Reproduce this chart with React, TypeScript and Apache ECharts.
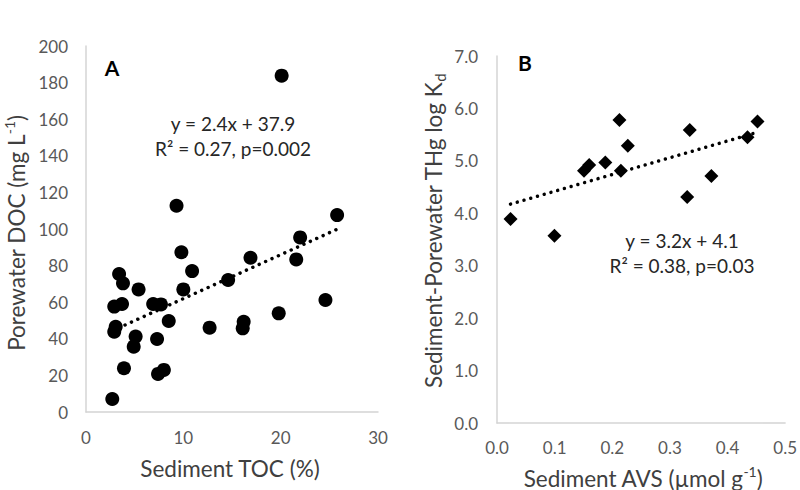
import React, { useEffect, useRef } from "react";
import * as echarts from "echarts";

// Panel A: Sediment TOC (%) vs Porewater DOC (mg L-1)
const tocA: number[] = [20.1, 9.3, 25.8, 9.8, 10.9, 10.0, 14.6, 16.9, 22.0, 21.6, 24.6, 19.8, 16.2, 16.1, 12.7, 8.5, 7.3, 6.9, 7.7, 5.4, 3.4, 3.8, 2.9, 3.7, 3.05, 2.9, 5.1, 4.9, 3.9, 8.0, 7.4, 2.7];
const docA: number[] = [183.8, 112.7, 107.6, 87.3, 77.0, 67.0, 72.1, 84.3, 95.4, 83.4, 61.2, 53.9, 49.3, 45.7, 46.1, 49.7, 39.9, 59.0, 58.8, 67.0, 75.4, 70.3, 57.6, 59.0, 46.6, 43.9, 41.2, 35.7, 23.9, 23.0, 20.8, 7.1];
const trendAX: number[] = [2.7, 25.9];
const trendAY: number[] = [44.4, 100.1];

// Panel B: Sediment AVS (umol g-1) vs log Kd
const avsB: number[] = [0.0235, 0.0997, 0.151, 0.160, 0.188, 0.2125, 0.215, 0.227, 0.3345, 0.330, 0.372, 0.4347, 0.452];
const kdB: number[] = [3.89, 3.57, 4.81, 4.92, 4.97, 5.78, 4.81, 5.29, 5.59, 4.31, 4.71, 5.45, 5.75];
const trendBX: number[] = [0.0235, 0.452];
const trendBY: number[] = [4.175, 5.546];

const yTicksA: number[] = [0, 20, 40, 60, 80, 100, 120, 140, 160, 180, 200];
const xTicksA: number[] = [0, 10, 20, 30];
const yTicksB: string[] = ["0.0", "1.0", "2.0", "3.0", "4.0", "5.0", "6.0", "7.0"];
const xTicksB: string[] = ["0.0", "0.1", "0.2", "0.3", "0.4", "0.5"];

const FONT = "Lato, 'Open Sans', sans-serif";
const LABEL = "#595959";
const AXIS = "#d4d4d4";

export default function App() {
  const ref = useRef<HTMLDivElement>(null);
  useEffect(() => {
    if (!ref.current) return;
    const chart = echarts.init(ref.current, null, { renderer: "svg" });
    const axisCommon = {
      axisLine: { show: true, lineStyle: { color: AXIS, width: 1.5 } },
      axisTick: { show: false },
      splitLine: { show: false },
    };
    const labelCommon = { color: LABEL, fontSize: 17, fontFamily: FONT };
    const titleStyle = { fill: "#404040", fontSize: 22.5, fontFamily: FONT };
    const eqStyle = { fill: "#262626", fontSize: 19, fontFamily: FONT, align: "center", verticalAlign: "middle" };
    chart.setOption({
      animation: false,
      backgroundColor: "#ffffff",
      grid: [
        { left: 86, top: 46, width: 292, height: 366 },
        { left: 497, top: 56, width: 291, height: 367 },
      ],
      xAxis: [
        {
          gridIndex: 0, type: "value", min: xTicksA[0], max: xTicksA[xTicksA.length - 1], interval: 10,
          ...axisCommon,
          axisLabel: { ...labelCommon, margin: 17 },
        },
        {
          gridIndex: 1, type: "value", min: 0, max: 0.5, interval: 0.1,
          ...axisCommon,
          axisLabel: { ...labelCommon, margin: 16, formatter: (v: number) => xTicksB[Math.round(v * 10)] ?? v.toFixed(1) },
        },
      ],
      yAxis: [
        {
          gridIndex: 0, type: "value", min: yTicksA[0], max: yTicksA[yTicksA.length - 1], interval: 20,
          ...axisCommon,
          axisLabel: { ...labelCommon, margin: 18 },
        },
        {
          gridIndex: 1, type: "value", min: 0, max: 7, interval: 1,
          ...axisCommon,
          axisLabel: { ...labelCommon, margin: 19, formatter: (v: number) => yTicksB[Math.round(v)] ?? v.toFixed(1) },
        },
      ],
      series: [
        {
          type: "scatter", xAxisIndex: 0, yAxisIndex: 0, symbol: "circle", symbolSize: 14,
          itemStyle: { color: "#000000", opacity: 1 },
          data: tocA.map((x, i) => [x, docA[i]]),
          z: 2,
        },
        {
          type: "line", xAxisIndex: 0, yAxisIndex: 0, symbol: "none", silent: true,
          lineStyle: { color: "#000000", width: 3.5, type: [0.01, 7], cap: "round" },
          data: trendAX.map((x, i) => [x, trendAY[i]]),
          z: 3,
        },
        {
          type: "scatter", xAxisIndex: 1, yAxisIndex: 1, symbol: "diamond", symbolSize: 14,
          itemStyle: { color: "#000000", opacity: 1 },
          data: avsB.map((x, i) => [x, kdB[i]]),
          z: 2,
        },
        {
          type: "line", xAxisIndex: 1, yAxisIndex: 1, symbol: "none", silent: true,
          lineStyle: { color: "#000000", width: 3.5, type: [0.01, 7], cap: "round" },
          data: trendBX.map((x, i) => [x, trendBY[i]]),
          z: 3,
        },
      ],
      graphic: [
        {
          type: "text", x: 16, y: 233, rotation: Math.PI / 2,
          style: {
            text: "{n|Porewater DOC (mg L}{s|-1}{n|)}", align: "center", verticalAlign: "middle",
            rich: {
              n: { ...titleStyle, lineHeight: 28 },
              s: { ...titleStyle, fontSize: 14, lineHeight: 14, verticalAlign: "top" },
            },
          },
        },
        {
          type: "text", x: 230, y: 468,
          style: { text: "Sediment TOC (%)", ...titleStyle, align: "center", verticalAlign: "middle" },
        },
        {
          type: "text", x: 433, y: 231, rotation: Math.PI / 2,
          style: {
            text: "{n|Sediment-Porewater THg log K}{d|d}", align: "center", verticalAlign: "middle",
            rich: {
              n: { ...titleStyle, lineHeight: 28 },
              d: { ...titleStyle, fontSize: 15, lineHeight: 15, verticalAlign: "bottom" },
            },
          },
        },
        {
          type: "text", x: 643, y: 478,
          style: {
            text: "{n|Sediment AVS (µmol g}{s|-1}{n|)}", align: "center", verticalAlign: "middle",
            rich: {
              n: { ...titleStyle, lineHeight: 28 },
              s: { ...titleStyle, fontSize: 14, lineHeight: 14, verticalAlign: "top" },
            },
          },
        },
        {
          type: "text", x: 112, y: 67,
          style: { text: "A", fill: "#000000", fontSize: 21, fontWeight: "bold", fontFamily: FONT, align: "center", verticalAlign: "middle" },
        },
        {
          type: "text", x: 525, y: 62,
          style: { text: "B", fill: "#000000", fontSize: 21, fontWeight: "bold", fontFamily: FONT, align: "center", verticalAlign: "middle" },
        },
        { type: "text", x: 233, y: 123, style: { text: "y = 2.4x + 37.9", ...eqStyle } },
        { type: "text", x: 233, y: 148, style: { text: "R² = 0.27, p=0.002", ...eqStyle } },
        { type: "text", x: 682, y: 240, style: { text: "y = 3.2x + 4.1", ...eqStyle } },
        { type: "text", x: 682, y: 265, style: { text: "R² = 0.38, p=0.03", ...eqStyle } },
      ],
    });
    return () => chart.dispose();
  }, []);
  return <div ref={ref} style={{ width: 800, height: 490, position: "absolute", left: 0, top: 0 }} />;
}
